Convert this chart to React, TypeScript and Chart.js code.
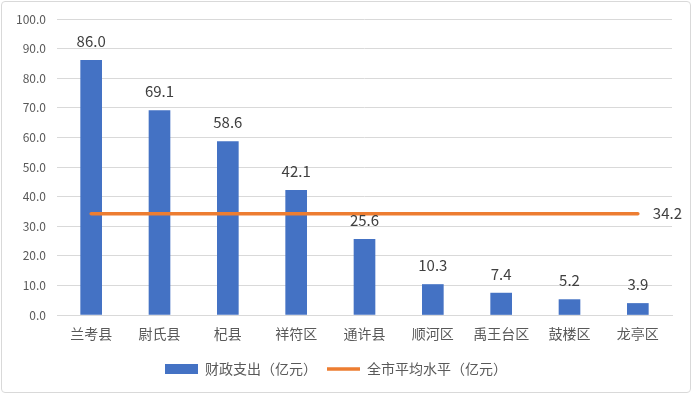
import React, { useEffect, useRef } from "react";
import { Chart, registerables } from "chart.js";

Chart.register(...registerables);

const categories = ["兰考县", "尉氏县", "杞县", "祥符区", "通许县", "顺河区", "禹王台区", "鼓楼区", "龙亭区"];
const spending = [86.0, 69.1, 58.6, 42.1, 25.6, 10.3, 7.4, 5.2, 3.9];
const cityAverage = [34.2, 34.2, 34.2, 34.2, 34.2, 34.2, 34.2, 34.2, 34.2];
const yTicks = [0, 10, 20, 30, 40, 50, 60, 70, 80, 90, 100];
const barLabel = "财政支出（亿元）";
const lineLabel = "全市平均水平（亿元）";

const FONT = '"Microsoft YaHei", "Noto Sans CJK SC", sans-serif';

const valueLabels = {
  id: "valueLabels",
  afterDatasetsDraw(chart: any) {
    const ctx = chart.ctx;
    ctx.save();
    ctx.font = `15px ${FONT}`;
    ctx.fillStyle = "#404040";
    const barMeta = chart.getDatasetMeta(0);
    ctx.textAlign = "center";
    ctx.textBaseline = "middle";
    barMeta.data.forEach((el: any, i: number) => {
      ctx.fillText(spending[i].toFixed(1), el.x, el.y - 19);
    });
    const lineMeta = chart.getDatasetMeta(1);
    const last = lineMeta.data[lineMeta.data.length - 1];
    ctx.textAlign = "left";
    ctx.fillText(cityAverage[cityAverage.length - 1].toFixed(1), last.x + 15, last.y);
    ctx.restore();
  },
};

export default function App() {
  const ref = useRef<HTMLCanvasElement>(null);
  useEffect(() => {
    document.body.style.margin = "0";
    const chart = new Chart(ref.current as HTMLCanvasElement, {
      type: "bar",
      data: {
        labels: categories,
        datasets: [
          {
            type: "bar",
            label: barLabel,
            data: spending,
            backgroundColor: "#4472C4",
            barThickness: 21,
            order: 1,
          } as any,
          {
            type: "line",
            label: lineLabel,
            data: cityAverage,
            borderColor: "#ED7D31",
            backgroundColor: "#ED7D31",
            borderWidth: 3.5,
            borderCapStyle: "round",
            pointRadius: 0,
            order: 0,
          } as any,
        ],
      },
      options: {
        animation: false,
        responsive: false,
        maintainAspectRatio: false,
        layout: { padding: { left: 0, right: 20, top: 19, bottom: 8 } },
        plugins: {
          tooltip: { enabled: false },
          legend: {
            position: "bottom",
            labels: {
              usePointStyle: true,
              pointStyleWidth: 33,
              boxHeight: 10,
              boxWidth: 33,
              padding: 10,
              color: "#595959",
              font: { size: 14, family: FONT },
              generateLabels(chart: any) {
                const items = Chart.defaults.plugins.legend.labels.generateLabels(chart);
                items.sort((a: any, b: any) => a.datasetIndex - b.datasetIndex);
                items.forEach((it: any) => {
                  if (it.datasetIndex === 0) {
                    it.pointStyle = "rect";
                    it.lineWidth = 0;
                    it.fillStyle = "#4472C4";
                    it.strokeStyle = "#4472C4";
                  } else {
                    it.pointStyle = "line";
                    it.lineWidth = 3.5;
                    it.strokeStyle = "#ED7D31";
                    it.fillStyle = "#ED7D31";
                  }
                });
                return items;
              },
            },
          },
        },
        scales: {
          x: {
            grid: { display: false, drawTicks: false },
            border: { display: true, color: "#d9d9d9" },
            ticks: { color: "#595959", font: { size: 14, family: FONT }, padding: 10, maxRotation: 0 },
            afterFit(scale: any) {
              scale.height = 37;
            },
          },
          y: {
            min: 0,
            max: 100,
            afterBuildTicks(scale: any) {
              scale.ticks = yTicks.map((v) => ({ value: v }));
            },
            grid: { color: "#d9d9d9", drawTicks: false },
            border: { display: false },
            ticks: {
              color: "#595959",
              font: { size: 12, family: FONT },
              padding: 11,
              callback: (v: any) => Number(v).toFixed(1),
            },
            afterFit(scale: any) {
              scale.width = 57;
            },
          },
        },
      },
      plugins: [valueLabels],
    });
    return () => chart.destroy();
  }, []);
  return (
    <div style={{ position: "relative", width: 692, height: 394, background: "#fff" }}>
      <canvas ref={ref} width={692} height={394} style={{ position: "absolute", left: 0, top: 0 }} />
      <div
        style={{
          position: "absolute",
          left: 1,
          top: 1,
          width: 690,
          height: 392,
          boxSizing: "border-box",
          border: "1px solid #d9d9d9",
          borderRadius: 4,
          pointerEvents: "none",
        }}
      />
    </div>
  );
}
